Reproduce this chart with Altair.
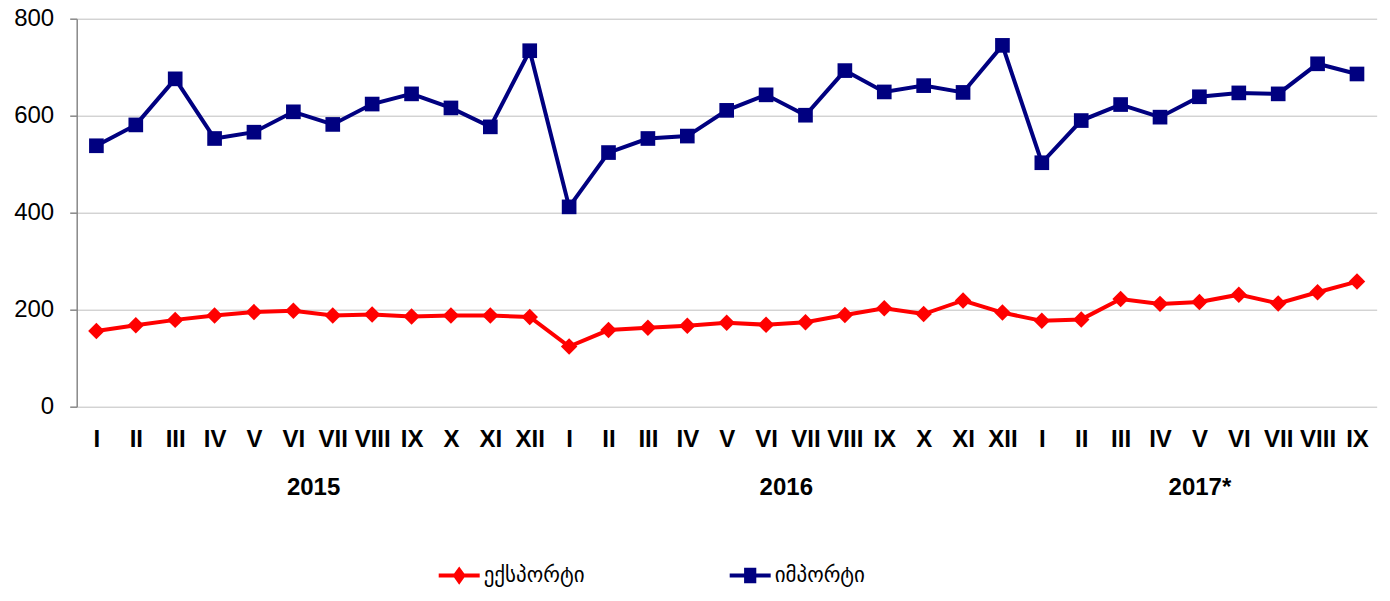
import json
import altair as alt
import pandas as pd

# ---------------- data ----------------
years = ["2015", "2016", "2017*"]
months_per_year = [12, 12, 9]
roman = ["I", "II", "III", "IV", "V", "VI", "VII", "VIII", "IX", "X", "XI", "XII"]

series_names = ["ექსპორტი", "იმპორტი"]
colors = ["#FF0000", "#000080"]

export_vals = [156, 168, 179, 188, 195, 198, 188, 190, 186, 188, 188, 185,
               124, 158, 163, 167, 173, 169, 174, 189, 203, 191, 219, 194,
               177, 180, 222, 212, 216, 231, 213, 236, 258]
import_vals = [538, 581, 676, 553, 566, 608, 582, 624, 645, 616, 577, 734,
               412, 524, 553, 558, 611, 643, 601, 693, 649, 662, 648, 745,
               503, 590, 623, 597, 639, 647, 645, 707, 686]

y_ticks = [0, 200, 400, 600, 800]

# ---------------- derived tables ----------------
month_labels = []
year_centers = []
start = 0
for y, m in zip(years, months_per_year):
    month_labels += roman[:m]
    year_centers.append(start + (m - 1) / 2)
    start += m
n = len(month_labels)

rows = []
for i in range(n):
    rows.append({"idx": i, "series": series_names[0], "value": export_vals[i]})
    rows.append({"idx": i, "series": series_names[1], "value": import_vals[i]})
df = pd.DataFrame(rows)

# ---------------- scales / axes ----------------
xscale = alt.Scale(domain=[-0.5, n - 0.5], nice=False, zero=False)
yscale = alt.Scale(domain=[0, 800], nice=False)

month_axis = alt.Axis(
    values=list(range(n)),
    labelExpr=json.dumps(month_labels) + "[datum.value]",
    title=None, domain=False, ticks=False, tickSize=0, grid=False,
    labelPadding=21, labelFontSize=24, labelFontWeight="bold",
    labelFont="Liberation Sans", labelColor="black",
    labelOverlap=False, labelBound=False, labelFlush=False,
)
year_axis = alt.Axis(
    values=year_centers,
    labelExpr=json.dumps(years) + "[indexof(" + json.dumps(year_centers) + ", datum.value)]",
    title=None, domain=False, ticks=False, tickSize=0, grid=False, orient="bottom",
    labelPadding=69, labelFontSize=24, labelFontWeight="bold",
    labelFont="Liberation Sans", labelColor="black",
    labelOverlap=False, labelBound=False, labelFlush=False,
)
y_axis = alt.Axis(
    values=y_ticks, title=None, grid=True, gridColor="#BFBFBF", gridWidth=1,
    domainColor="#888888", domainWidth=1.5, tickColor="#888888", tickWidth=1.5,
    tickSize=7, labelPadding=16, labelFontSize=24, labelFont="Liberation Sans",
    labelColor="black",
)

base = alt.Chart(df)

def series_filter(k):
    return alt.datum.series == series_names[k]

line_exp = base.transform_filter(series_filter(0)).mark_line(
    color=colors[0], strokeWidth=4).encode(
    x=alt.X("idx:Q", scale=xscale, axis=month_axis),
    y=alt.Y("value:Q", scale=yscale, axis=y_axis),
)
line_imp = base.transform_filter(series_filter(1)).mark_line(
    color=colors[1], strokeWidth=4).encode(
    x=alt.X("idx:Q", scale=xscale, axis=None),
    y=alt.Y("value:Q", scale=yscale, axis=None),
)
pts_exp = base.transform_filter(series_filter(0)).mark_point(
    shape="diamond", filled=True, size=272, color=colors[0], opacity=1).encode(
    x=alt.X("idx:Q", scale=xscale, axis=None),
    y=alt.Y("value:Q", scale=yscale, axis=None),
)
pts_imp = base.transform_filter(series_filter(1)).mark_point(
    shape="square", filled=True, size=215, color=colors[1], opacity=1).encode(
    x=alt.X("idx:Q", scale=xscale, axis=None),
    y=alt.Y("value:Q", scale=yscale, axis=None),
)

diamond_path = "M-1,0H1M0,-0.28L0.2,0L0,0.28L-0.2,0ZM0,-0.12L0.08,0L0,0.12L-0.08,0Z"
square_path = "M-1,0H1M-0.2,-0.28H0.2V0.28H-0.2ZM-0.06,-0.12H0.06V0.12H-0.06Z"

legend = alt.Legend(
    title=None, orient="none", legendX=360, legendY=534, direction="horizontal",
    symbolSize=1681, symbolStrokeWidth=4, symbolOpacity=1,
    labelFont="DejaVu Sans", labelFontSize=21, labelColor="black",
    labelOffset=2, columnPadding=137, padding=0, labelLimit=300,
)

legend_layer = base.mark_point(filled=False, opacity=0, strokeWidth=4).encode(
    x=alt.X("idx:Q", scale=xscale, axis=year_axis),
    y=alt.Y("value:Q", scale=yscale, axis=None),
    color=alt.Color("series:N", scale=alt.Scale(domain=series_names, range=colors), legend=legend),
    shape=alt.Shape("series:N", scale=alt.Scale(domain=series_names, range=[diamond_path, square_path]), legend=legend),
)

chart = alt.layer(line_exp, line_imp, pts_exp, pts_imp, legend_layer).resolve_axis(
    x="independent", y="independent"
).properties(
    width=1300, height=388,
    autosize=alt.AutoSizeParams(type="none"),
    padding={"left": 68.7, "top": 10.7, "right": 5, "bottom": 186},
).configure_view(strokeWidth=0)

chart.save("out.html", embed_options={"renderer": "svg", "actions": False})
